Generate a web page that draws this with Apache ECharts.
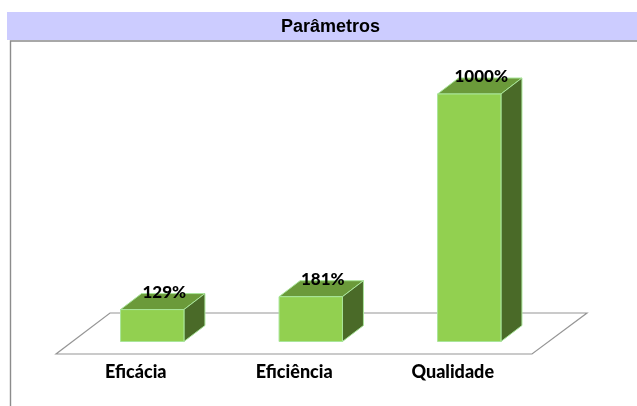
<!DOCTYPE html>
<html>

<head>
    <meta charset="utf-8" />
    <script src="https://cdn.jsdelivr.net/npm/echarts@6/dist/echarts.min.js"></script>
    <style>
        html, body { margin: 0; padding: 0; background: #fff; }
    </style>
</head>

<body>
<div id="main" style="width: 637px;height:406px;"></div>

<script>
    const titleText = 'Parâmetros';
    const categories = ['Eficácia', 'Eficiência', 'Qualidade'];
    const values = [129, 181, 1000];
    const valueLabels = ['129%', '181%', '1000%'];

    var myChart = echarts.init(document.getElementById('main'));

    // depth of the fake 3D look, in pixels
    const depthX = 21;
    const depthY = 16;
    const labelFont = 'Lato, "Open Sans", sans-serif';

    function renderFloor(params, api) {
        var cs = params.coordSys;
        var y0 = cs.y + cs.height;
        var pts = [
            [cs.x - 17, y0 + 12.5],
            [cs.x + cs.width - 16.5, y0 + 12.5],
            [cs.x + cs.width + 38.5, y0 - 28.5],
            [cs.x + 37, y0 - 28.5]
        ];
        return {
            type: 'polygon',
            shape: { points: pts },
            style: { fill: '#fff', stroke: '#969696', lineWidth: 1.2 }
        };
    }

    function renderBar(params, api) {
        var base = api.coord([api.value(0), 0]);
        var top = api.coord([api.value(0), api.value(1)]);
        var half = api.size([1, 0])[0] * 0.2;
        var l = base[0] - half, r = base[0] + half;
        var edge = { stroke: '#a9e59a', lineWidth: 1, lineJoin: 'round' };
        return {
            type: 'group',
            children: [{
                type: 'polygon',
                shape: { points: [[l, top[1]], [r, top[1]], [r + depthX, top[1] - depthY], [l + depthX, top[1] - depthY]] },
                style: Object.assign({ fill: '#6b9a3a' }, edge)
            }, {
                type: 'polygon',
                shape: { points: [[r, top[1]], [r + depthX, top[1] - depthY], [r + depthX, base[1] - depthY], [r, base[1]]] },
                style: Object.assign({ fill: '#4a6a28' }, edge)
            }, {
                type: 'rect',
                shape: { x: l, y: top[1], width: r - l, height: base[1] - top[1] },
                style: Object.assign({ fill: '#92d050' }, edge)
            }, {
                type: 'text',
                style: {
                    text: valueLabels[params.dataIndex],
                    x: base[0] + 12,
                    y: top[1] - 17,
                    align: 'center',
                    verticalAlign: 'middle',
                    font: '900 17px ' + labelFont,
                    fill: '#000'
                }
            }]
        };
    }

    var option = {
        animation: false,
        backgroundColor: '#fff',
        graphic: [{
            type: 'rect',
            shape: { x: 7, y: 12, width: 630, height: 28 },
            style: { fill: '#ccccff' },
            silent: true
        }, {
            type: 'polyline',
            shape: { points: [[10.5, 406], [10.5, 41], [637, 41]] },
            style: { fill: 'none', stroke: '#8c8c8c', lineWidth: 1.4 },
            silent: true
        }, {
            type: 'text',
            style: {
                text: titleText,
                x: 330.5,
                y: 27,
                align: 'center',
                verticalAlign: 'middle',
                font: 'bold 18px "Liberation Sans", Arial, sans-serif',
                fill: '#000'
            },
            silent: true
        }],
        grid: {
            left: 73,
            width: 475.5,
            top: 94,
            height: 247.5
        },
        xAxis: {
            type: 'category',
            data: categories,
            axisLine: { show: false },
            axisTick: { show: false },
            axisLabel: {
                margin: 22,
                padding: [0, 33, 0, 0],
                fontFamily: labelFont,
                fontWeight: 900,
                fontSize: 18,
                color: '#000'
            }
        },
        yAxis: {
            type: 'value',
            min: 0,
            max: 1000,
            show: false
        },
        series: [{
            type: 'custom',
            silent: true,
            z: 1,
            renderItem: renderFloor,
            data: [0]
        }, {
            type: 'custom',
            silent: true,
            z: 2,
            renderItem: renderBar,
            data: categories.map(function(c, i) { return [i, values[i]]; })
        }]
    };

    myChart.setOption(option);
</script>
</body>

</html>
